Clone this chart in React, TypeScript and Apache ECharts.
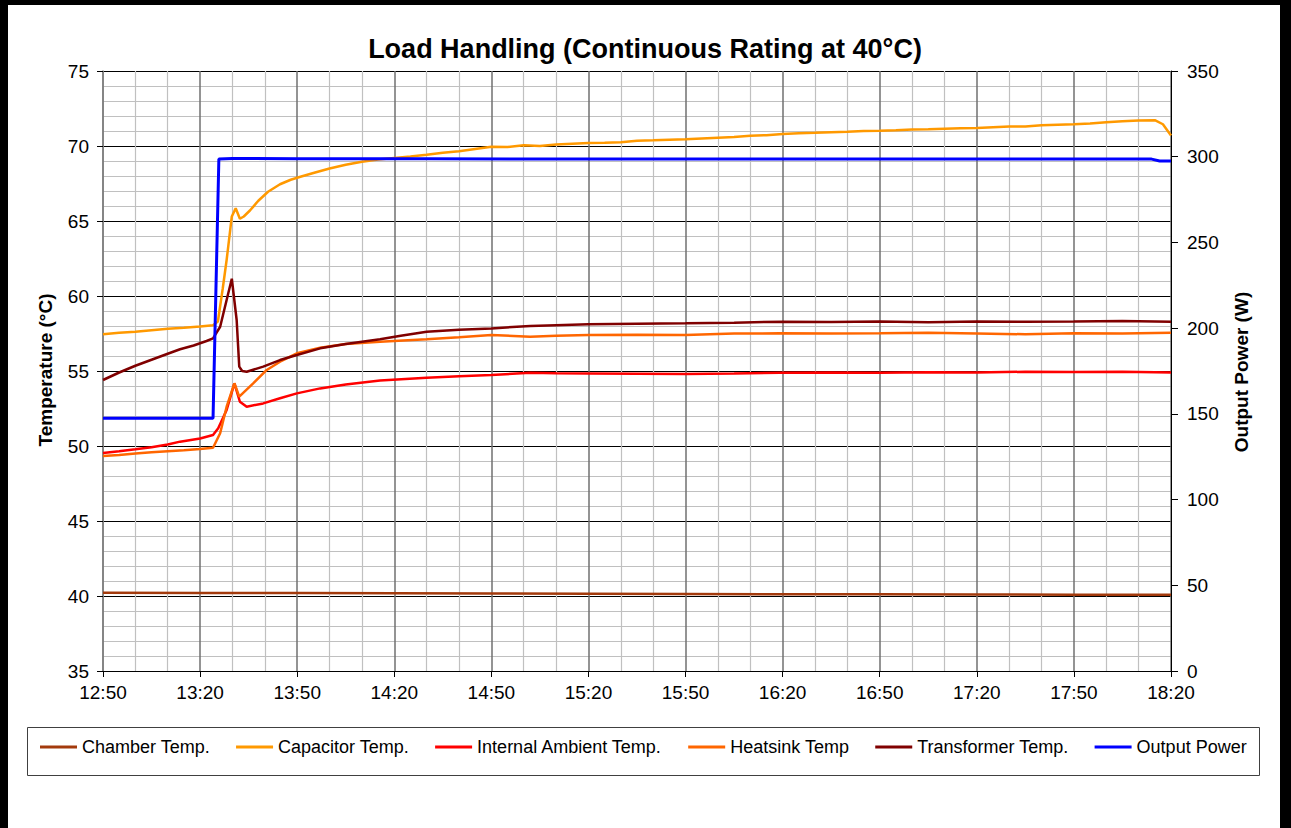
import React, { useEffect, useRef } from "react";
import * as echarts from "echarts";

// x values are minutes after 12:50
const xTickLabelsStart = 12 * 60 + 50;

const chamberTemp: [number, number][] = [
  [0, 40.22], [30, 40.2], [60, 40.2], [90, 40.19], [120, 40.17], [150, 40.15],
  [180, 40.13], [210, 40.12], [240, 40.11], [270, 40.1], [300, 40.09], [330, 40.08],
];

const capacitorTemp: [number, number][] = [
  [0, 57.45], [5, 57.55], [10, 57.62], [15, 57.72], [20, 57.82], [25, 57.88], [30, 57.96], [34, 58.05],
  [35.5, 58.3], [37, 60.5], [38.2, 62.4], [39.8, 65.3], [41, 65.85], [42.3, 65.15], [43.5, 65.3],
  [45.4, 65.7], [48, 66.35], [51, 66.95], [54.7, 67.45], [58, 67.75], [61, 67.95], [65, 68.2],
  [70, 68.5], [75, 68.75], [80, 68.95], [85, 69.1], [90, 69.2], [95, 69.3], [100, 69.42],
  [105, 69.55], [110, 69.65], [115, 69.8], [120, 69.95], [125, 69.93], [130, 70.05], [135, 70.0],
  [140, 70.1], [145, 70.15], [150, 70.2], [155, 70.22], [160, 70.25], [165, 70.35], [170, 70.38],
  [175, 70.42], [180, 70.45], [185, 70.5], [190, 70.55], [195, 70.6], [200, 70.68], [205, 70.72],
  [210, 70.8], [215, 70.85], [220, 70.88], [225, 70.92], [230, 70.95], [235, 71.0], [240, 71.02],
  [245, 71.05], [250, 71.1], [255, 71.12], [260, 71.15], [265, 71.18], [270, 71.2], [275, 71.25],
  [280, 71.3], [285, 71.3], [290, 71.38], [295, 71.42], [300, 71.45], [305, 71.5], [310, 71.58],
  [315, 71.65], [320, 71.7], [325, 71.72], [327.5, 71.45], [330, 70.7],
];

const internalAmbientTemp: [number, number][] = [
  [0, 49.53], [5, 49.65], [10, 49.78], [15, 49.92], [20, 50.1], [23.8, 50.29], [30, 50.5], [34, 50.73],
  [35.6, 51.18], [38.2, 52.4], [40.6, 54.18], [42.3, 52.95], [44.4, 52.62], [49.5, 52.84],
  [54.7, 53.18], [59.9, 53.51], [67.1, 53.84], [75, 54.1], [85.6, 54.36], [100, 54.55],
  [110, 54.65], [120, 54.73], [132, 54.89], [140, 54.85], [150, 54.84], [165, 54.82], [180, 54.8],
  [195, 54.84], [209, 54.89], [225, 54.9], [240, 54.89], [255, 54.92], [270, 54.9], [285, 54.95],
  [300, 54.93], [315, 54.95], [330, 54.9],
];

const heatsinkTemp: [number, number][] = [
  [0, 49.33], [5, 49.4], [10, 49.5], [15, 49.58], [20, 49.65], [25, 49.72], [30, 49.8], [34, 49.88],
  [36.2, 50.85], [38.2, 52.62], [40.6, 54.18], [42.1, 53.29], [46.4, 54.18], [50.6, 55.07],
  [54.7, 55.62], [59.9, 56.18], [67.1, 56.55], [75, 56.8], [85.6, 56.95], [100, 57.11],
  [110, 57.25], [120, 57.4], [132, 57.29], [140, 57.35], [150, 57.4], [165, 57.42], [180, 57.4],
  [195, 57.5], [209, 57.51], [225, 57.5], [240, 57.52], [255, 57.55], [270, 57.5], [285, 57.45],
  [300, 57.52], [315, 57.5], [330, 57.55],
];

const transformerTemp: [number, number][] = [
  [0, 54.4], [5, 54.9], [10, 55.35], [15, 55.75], [20, 56.15], [23.8, 56.45], [28, 56.7], [32, 57.0],
  [34, 57.18], [36.2, 57.95], [38.2, 59.73], [39.8, 61.15], [41.3, 58.4], [42.1, 55.29], [43, 55.0],
  [44.4, 54.95], [49.5, 55.29], [54.7, 55.73], [59.9, 56.07], [67.1, 56.51], [75, 56.8],
  [85.6, 57.11], [92, 57.35], [100, 57.62], [110, 57.75], [120, 57.84], [132, 58.0], [140, 58.05],
  [150, 58.11], [165, 58.15], [180, 58.18], [195, 58.22], [210, 58.29], [225, 58.27], [240, 58.3],
  [255, 58.25], [270, 58.3], [285, 58.28], [300, 58.3], [315, 58.33], [330, 58.29],
];

const outputPower: [number, number][] = [
  [0, 147.5], [34, 147.5], [35.8, 298.7], [40, 299.0], [60, 298.8], [100, 298.8], [150, 298.6],
  [200, 298.7], [250, 298.6], [300, 298.6], [324, 298.6], [326.5, 297.5], [330, 297.5],
];

const seriesNames = [
  "Chamber Temp.",
  "Capacitor Temp.",
  "Internal Ambient Temp.",
  "Heatsink Temp",
  "Transformer Temp.",
  "Output Power",
];

const FONT = "'Liberation Sans', Arial, sans-serif";

function fmtTime(v: number): string {
  const m = xTickLabelsStart + v;
  const h = Math.floor(m / 60);
  const mm = m % 60;
  return `${h}:${mm < 10 ? "0" + mm : mm}`;
}

export default function App() {
  const ref = useRef<HTMLDivElement>(null);

  useEffect(() => {
    if (!ref.current) return;
    const chart = echarts.init(ref.current, undefined, { renderer: "svg" });
    const mkLine = (name: string, data: [number, number][], color: string, yIdx: number, w = 2.5) => ({
      name,
      type: "line",
      data,
      yAxisIndex: yIdx,
      symbol: "none",
      showSymbol: false,
      lineStyle: { color, width: w },
      itemStyle: { color },
      z: 3,
    });
    chart.setOption({
      animation: false,
      backgroundColor: "#ffffff",
      title: {
        text: "Load Handling (Continuous Rating at 40°C)",
        left: 640,
        textAlign: "center",
        top: 30,
        textStyle: { fontFamily: FONT, fontSize: 27, fontWeight: "bold", color: "#000" },
      },
      grid: { left: 103, top: 71, width: 1068, height: 600, containLabel: false },
      legend: {
        left: 40,
        top: 738,
        padding: 0,
        icon: "rect",
        itemWidth: 37,
        itemHeight: 3,
        itemGap: 26,
        data: seriesNames,
        textStyle: { fontFamily: FONT, fontSize: 18, color: "#000" },
      },
      xAxis: {
        type: "value",
        min: 0,
        max: 330,
        interval: 30,
        axisLine: { show: true, lineStyle: { color: "#000", width: 1 } },
        axisTick: { show: true, length: 6, lineStyle: { color: "#000" } },
        axisLabel: {
          margin: 12,
          fontFamily: FONT,
          fontSize: 19,
          color: "#000",
          formatter: (v: number) => fmtTime(v),
        },
        splitLine: { show: true, lineStyle: { color: "#707070", width: 1.5 } },
        minorTick: { show: false, splitNumber: 3 },
        minorSplitLine: { show: true, lineStyle: { color: "#c0c0c0", width: 1.2 } },
      },
      yAxis: [
        {
          type: "value",
          min: 35,
          max: 75,
          interval: 5,
          position: "left",
          axisLine: { show: true, lineStyle: { color: "#808080", width: 1.5 } },
          axisTick: { show: true, length: 6, lineStyle: { color: "#000" } },
          axisLabel: { margin: 14, fontFamily: FONT, fontSize: 19, color: "#000" },
          splitLine: { show: true, lineStyle: { color: "#000", width: 1 } },
          minorTick: { show: false, splitNumber: 5 },
          minorSplitLine: { show: true, lineStyle: { color: "#c0c0c0", width: 1.2 } },
        },
        {
          type: "value",
          min: 0,
          max: 350,
          interval: 50,
          position: "right",
          axisLine: { show: true, lineStyle: { color: "#000", width: 1 } },
          axisTick: { show: true, length: 7, lineStyle: { color: "#000" } },
          axisLabel: { margin: 16, fontFamily: FONT, fontSize: 19, color: "#000" },
          splitLine: { show: false },
        },
      ],
      series: [
        mkLine(seriesNames[0], chamberTemp, "#A33A0C", 0),
        mkLine(seriesNames[1], capacitorTemp, "#FF9900", 0),
        mkLine(seriesNames[2], internalAmbientTemp, "#FF0000", 0),
        mkLine(seriesNames[3], heatsinkTemp, "#FF6600", 0),
        mkLine(seriesNames[4], transformerTemp, "#800000", 0),
        mkLine(seriesNames[5], outputPower, "#0000FF", 1, 3),
      ],
      graphic: [
        { type: "rect", shape: { x: 0, y: 0, width: 8, height: 828 }, style: { fill: "#000" }, z: 100 },
        { type: "rect", shape: { x: 0, y: 0, width: 1291, height: 5 }, style: { fill: "#000" }, z: 100 },
        { type: "rect", shape: { x: 1280, y: 0, width: 11, height: 828 }, style: { fill: "#000" }, z: 100 },
        {
          type: "rect",
          shape: { x: 27.5, y: 727.5, width: 1232, height: 48 },
          style: { fill: "none", stroke: "#404040", lineWidth: 1 },
          z: 50,
        },
        {
          type: "text",
          x: 45,
          y: 370,
          rotation: Math.PI / 2,
          style: {
            text: "Temperature (°C)",
            fontFamily: FONT,
            fontSize: 19,
            fontWeight: "bold",
            fill: "#000",
            textAlign: "center",
            textVerticalAlign: "middle",
          },
        },
        {
          type: "text",
          x: 1241,
          y: 372,
          rotation: Math.PI / 2,
          style: {
            text: "Output Power (W)",
            fontFamily: FONT,
            fontSize: 19,
            fontWeight: "bold",
            fill: "#000",
            textAlign: "center",
            textVerticalAlign: "middle",
          },
        },
      ],
    });
    return () => chart.dispose();
  }, []);

  return (
    <div
      ref={ref}
      style={{ position: "absolute", left: 0, top: 0, width: 1291, height: 828, background: "#fff" }}
    />
  );
}
